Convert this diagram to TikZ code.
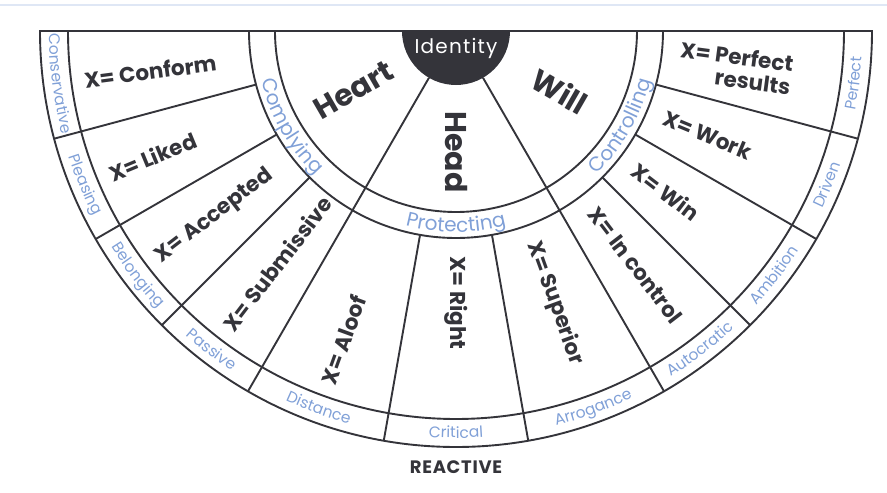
\documentclass[tikz,border=0pt]{standalone}
\usepackage{fontspec}
\setmainfont{Poppins}
\usetikzlibrary{decorations.text}
\definecolor{ink}{RGB}{52,52,58}
\definecolor{ringblue}{RGB}{128,160,215}

\begin{document}
\begin{tikzpicture}[x=1pt, y=1pt,
  wheel/.style={draw=ink, line width=1.9pt},
  core/.style={font=\bfseries\fontsize{30}{30}\selectfont, text=ink, inner sep=0pt},
  xlab/.style={font=\bfseries\fontsize{21.5}{23}\selectfont, text=ink, inner sep=0pt, anchor=west},
  midlab/.style={decorate, decoration={text along path, text align=center, text color=ringblue,
    text={|\fontsize{20}{20}\selectfont|#1}}},
  outlab/.style={decorate, decoration={text along path, text align=center, text color=ringblue,
    text={|\fontsize{15.5}{15.5}\selectfont|#1}}}]
  \useasboundingbox (-456,-462) rectangle (431,31);
  \draw[ringblue!25, line width=1.5pt] (-456,26) -- (431,26);
%
  \draw[wheel] (180:416) arc[start angle=180, end angle=360, radius=416] -- cycle;
  \draw[wheel] (180:388) arc[start angle=180, end angle=360, radius=388];
  \draw[wheel] (180:207) arc[start angle=180, end angle=360, radius=207];
  \draw[wheel] (180:181) arc[start angle=180, end angle=360, radius=181];
%
  \draw[wheel] (240:54) -- (240:416);
  \draw[wheel] (300:54) -- (300:416);
  \draw[wheel] (195:207) -- (195:416);
  \draw[wheel] (210:207) -- (210:416);
  \draw[wheel] (225:207) -- (225:416);
  \draw[wheel] (260:207) -- (260:416);
  \draw[wheel] (280:207) -- (280:416);
  \draw[wheel] (315:207) -- (315:416);
  \draw[wheel] (330:207) -- (330:416);
  \draw[wheel] (345:207) -- (345:416);
%
  \fill[ink] (0:54) arc[start angle=0, end angle=-180, radius=54] -- cycle;
  \node[text=white, font=\fontsize{20}{20}\selectfont\addfontfeatures{LetterSpace=6}] (Id) at (0,-17) {Identity};
%
  \node[core, rotate=30] (Heart) at (210:118) {Heart};
  \node[core, rotate=-90] (Head) at (270:121) {Head};
  \node[core, rotate=-30] (Will) at (330:120) {Will};
%
  \node[xlab, rotate=7.5] (X1) at (187.5:375) {X= Conform};
  \node[xlab, rotate=22.5] (X2) at (202.5:375) {X= Liked};
  \node[xlab, rotate=37.5] (X3) at (217.5:375) {X= Accepted};
  \node[xlab, rotate=52.5] (X4) at (232.5:375) {X= Submissive};
  \node[xlab, rotate=70] (X5) at (250:375) {X= Aloof};
  \node[xlab, rotate=-90] (X6) at (270:225) {X= Right};
  \node[xlab, rotate=-70] (X7) at (290:225) {X= Superior};
  \node[xlab, rotate=-52.5] (X8) at (307.5:225) {X= In control};
  \node[xlab, rotate=-37.5] (X9) at (322.5:225) {X= Win};
  \node[xlab, rotate=-22.5] (X10) at (337.5:225) {X= Work};
  \node[xlab, rotate=-7.5, align=right] (X11) at (352.5:225) {X= Perfect\\results};
%
  \path[midlab=Complying] (180:201) arc[start angle=180, delta angle=60, radius=201];
  \path[midlab=Protecting] (240:201) arc[start angle=240, delta angle=60, radius=201];
  \path[midlab=Controlling] (300:201) arc[start angle=300, delta angle=60, radius=201];
%
  \path[outlab=Conservative] (157.5:407) arc[start angle=157.5, delta angle=60, radius=407];
  \path[outlab=Pleasing] (172.5:407) arc[start angle=172.5, delta angle=60, radius=407];
  \path[outlab=Belonging] (187.5:407) arc[start angle=187.5, delta angle=60, radius=407];
  \path[outlab=Passive] (202.5:407) arc[start angle=202.5, delta angle=60, radius=407];
  \path[outlab=Distance] (220:407) arc[start angle=220, delta angle=60, radius=407];
  \path[outlab=Critical] (240:407) arc[start angle=240, delta angle=60, radius=407];
  \path[outlab=Arrogance] (260:407) arc[start angle=260, delta angle=60, radius=407];
  \path[outlab=Autocratic] (277.5:407) arc[start angle=277.5, delta angle=60, radius=407];
  \path[outlab=Ambition] (292.5:407) arc[start angle=292.5, delta angle=60, radius=407];
  \path[outlab=Driven] (307.5:407) arc[start angle=307.5, delta angle=60, radius=407];
  \path[outlab=Perfect] (322.5:407) arc[start angle=322.5, delta angle=60, radius=407];
%
  \node[font=\bfseries\fontsize{18}{18}\selectfont\addfontfeatures{LetterSpace=4}, text=ink] (React) at (0,-436) {REACTIVE};
\end{tikzpicture}
\end{document}
